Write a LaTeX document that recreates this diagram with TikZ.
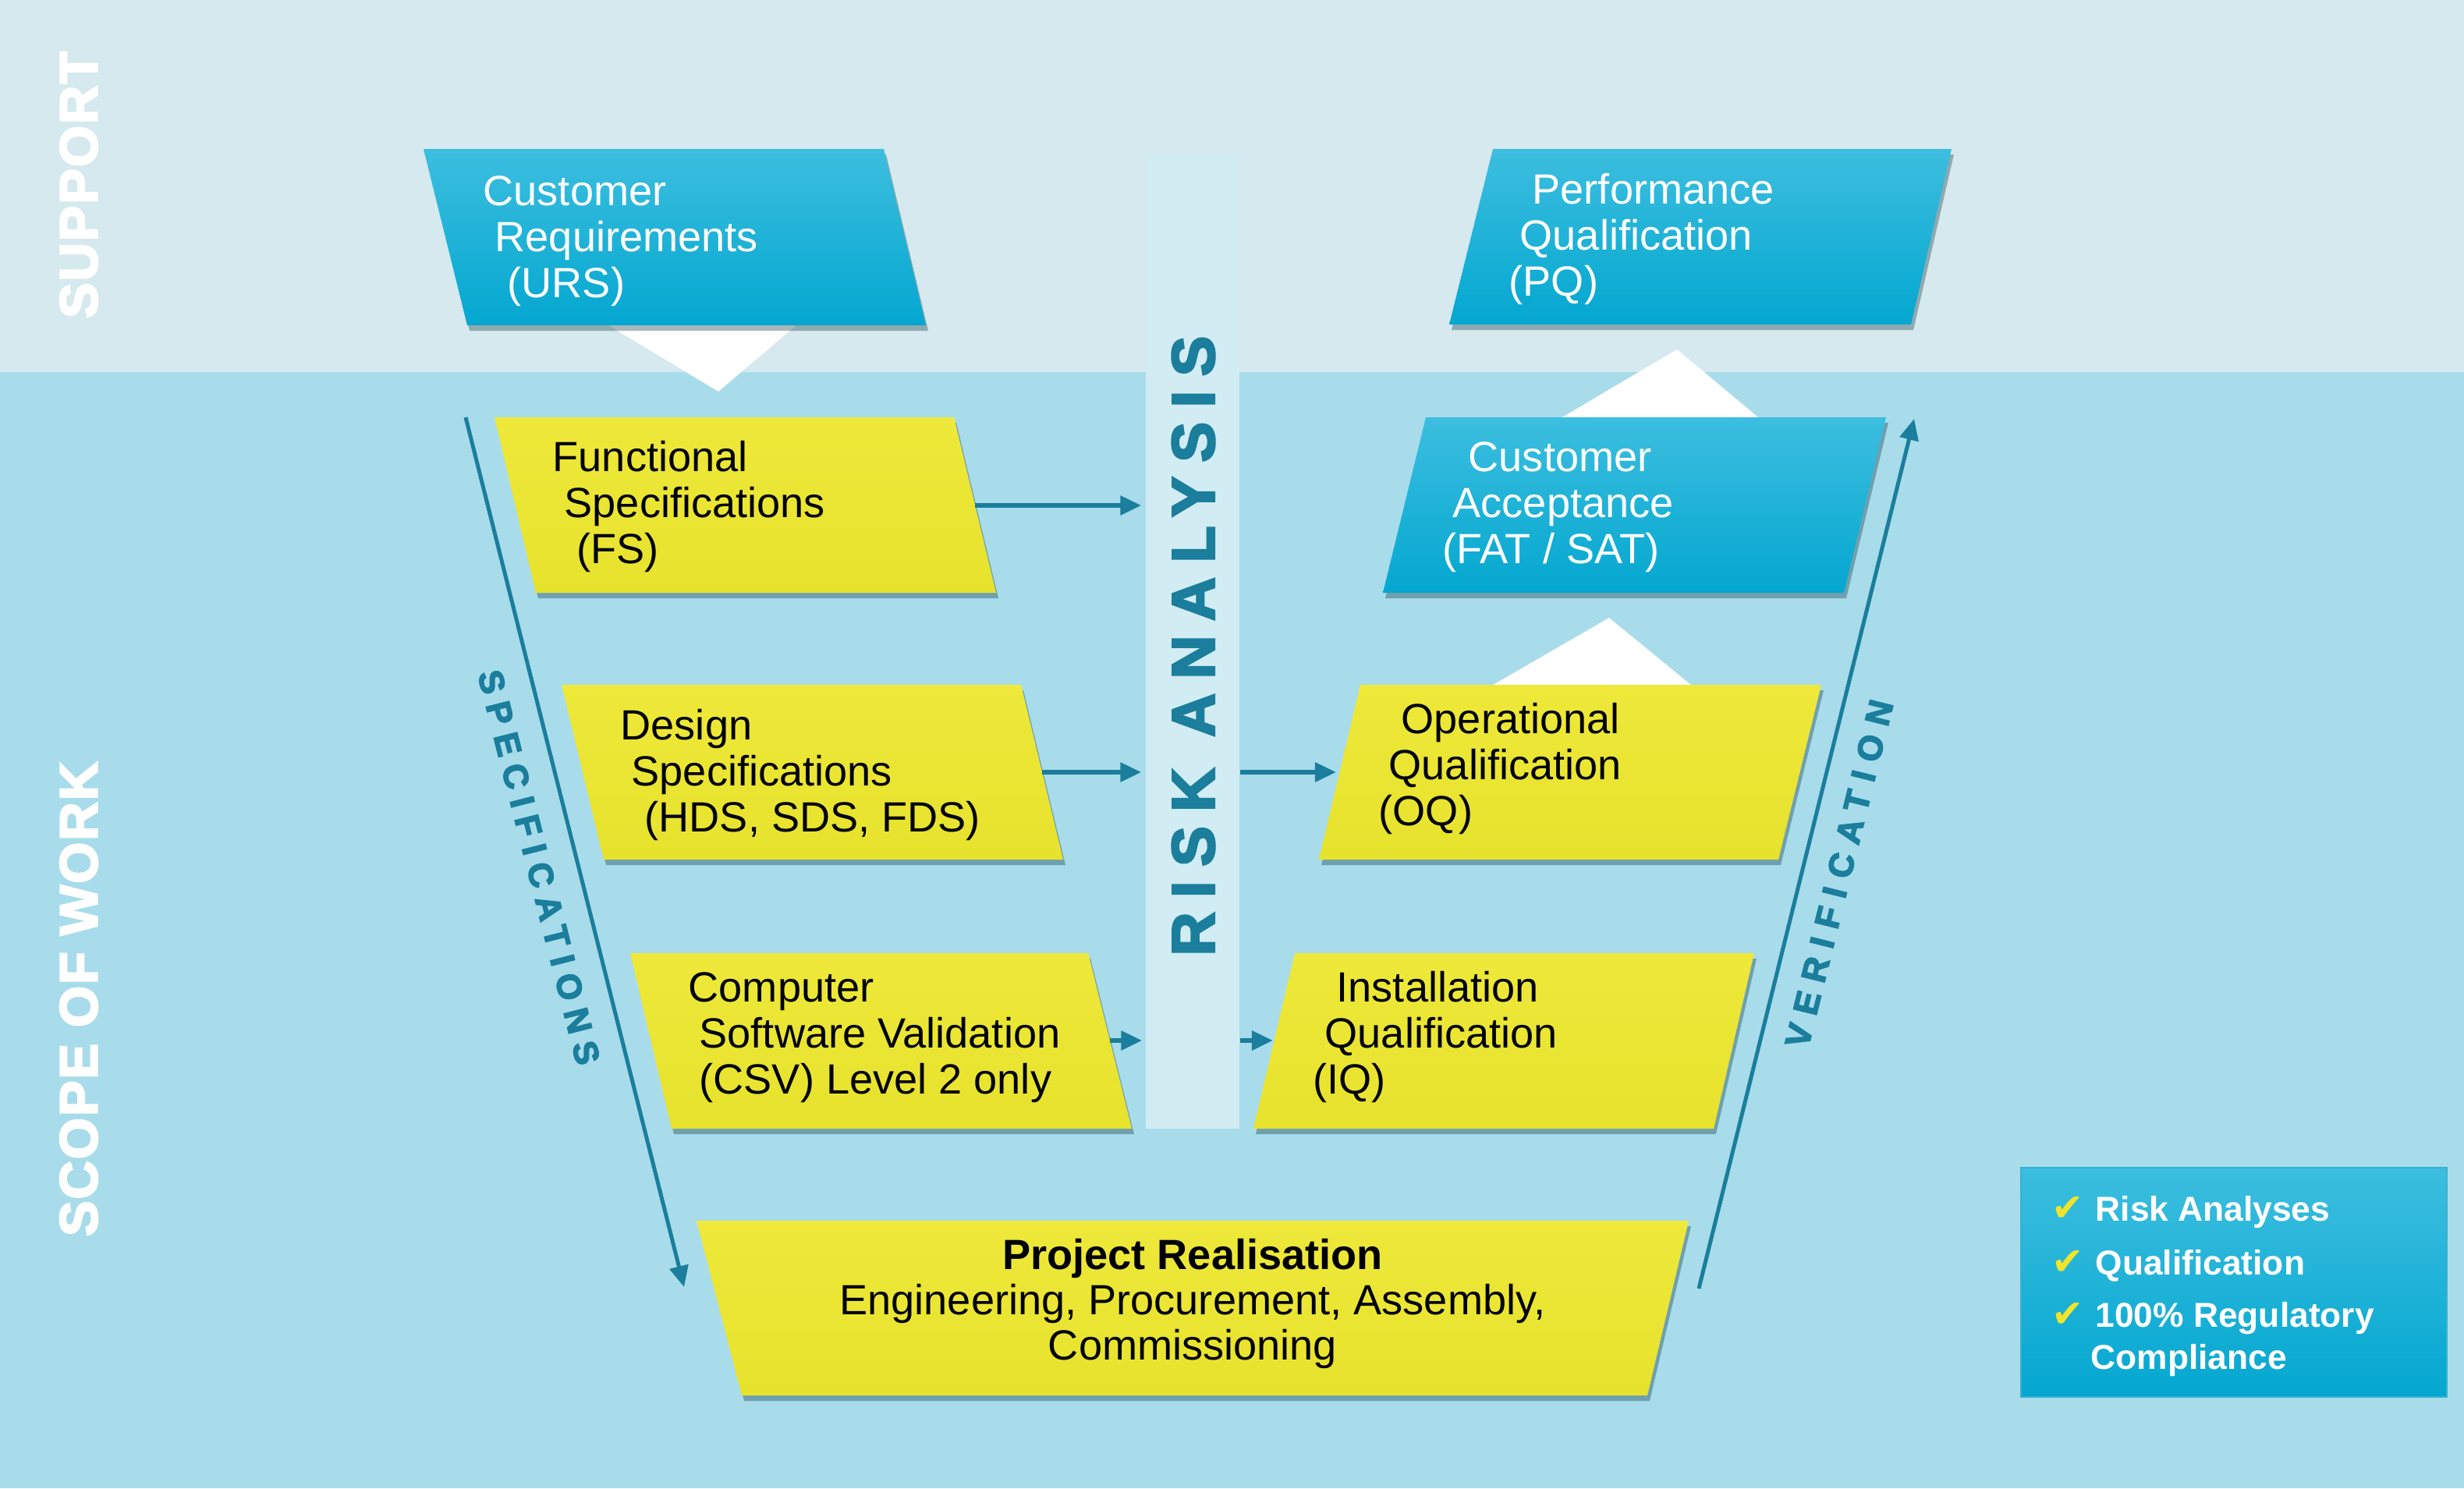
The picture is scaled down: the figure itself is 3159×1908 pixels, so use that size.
\documentclass[tikz,border=0pt]{standalone}
\usepackage{fontspec}
\setmainfont{Liberation Sans}
\newfontfamily\heavy{Liberation Sans}[BoldFeatures={FakeBold=3.5}]
\newfontfamily\checkfont{DejaVu Sans}
\usetikzlibrary{shadows,arrows.meta}
\newdimen\pxu \pxu=0.01cm
\newcommand\tlines[5]{\vtop{\baselineskip=59\pxu\relax\hbox{#1}\hbox{\kern#2\pxu\relax #3}\hbox{\kern#4\pxu\relax #5}}}
\definecolor{bandtop}{HTML}{D5E9EE}
\definecolor{bandlow}{HTML}{A8DCEB}
\definecolor{barcol}{HTML}{D2ECF4}
\definecolor{tealc}{HTML}{1A7E9C}
\definecolor{cyantop}{HTML}{3CBEDF}
\definecolor{cyanbot}{HTML}{04A7D0}
\definecolor{yeltop}{HTML}{EEE93A}
\definecolor{yelbot}{HTML}{E7E22C}
\definecolor{chkcol}{HTML}{F0E52A}
\tikzset{
  boxshadow/.style={drop shadow={shadow xshift=0.03cm, shadow yshift=-0.07cm, opacity=0.35, fill=black!60!tealc}},
  cyanbox/.style={top color=cyantop, bottom color=cyanbot, boxshadow},
  yelbox/.style={top color=yeltop, bottom color=yelbot, boxshadow},
  tri/.style={fill=white},
  wtxt/.style={text=white, inner sep=0, anchor=base west, font=\fontsize{15.4pt}{16.8pt}\selectfont},
  btxt/.style={text=black, inner sep=0, anchor=base west, font=\fontsize{15.4pt}{16.8pt}\selectfont},
  arr/.style={draw=tealc, line width=0.06cm, -{Triangle[length=0.27cm,width=0.24cm]}},
  sidelabel/.style={text=white, inner sep=0, rotate=90, font=\heavy\bfseries\fontsize{19.4pt}{19.4pt}\selectfont\addfontfeature{LetterSpace=3}},
  speclabel/.style={text=tealc, inner sep=0, font=\heavy\bfseries\fontsize{12.5pt}{12.5pt}\selectfont\addfontfeature{LetterSpace=27}},
  verlabel/.style={text=tealc, inner sep=0, font=\heavy\bfseries\fontsize{12.5pt}{12.5pt}\selectfont\addfontfeature{LetterSpace=31}},
  risklabel/.style={text=tealc, inner sep=0, rotate=90, font=\heavy\bfseries\fontsize{22pt}{22pt}\selectfont\addfontfeature{LetterSpace=24}},
  ltxt/.style={text=white, inner sep=0, anchor=base west, font=\bfseries\fontsize{12.6pt}{14pt}\selectfont},
  chk/.style={text=chkcol, inner sep=0, anchor=base west, font=\checkfont\bfseries\fontsize{14pt}{14pt}\selectfont},
}
\begin{document}
\begin{tikzpicture}[x=0.01cm, y=-0.01cm]
\useasboundingbox (0,0) rectangle (3159,1908);
% background bands
\fill[bandlow] (0,0) rectangle (3159,1908);
\fill[bandtop] (0,0) rectangle (3159,477);

% side labels
\node[sidelabel] (support) at (101,237) {SUPPORT};
\node[sidelabel] (scope) at (101,1281) {SCOPE OF WORK};

% risk analysis bar
\node[fill=barcol, inner sep=0, minimum width=1.2cm, minimum height=12.5cm] (risk) at (1529,822) {};
\node[risklabel] (riskT) at (1530,828) {RISK ANALYSIS};

% white triangles
\fill[tri] (760,405) -- (1035,405) -- (921,502) -- cycle;
\fill[tri] (1986,545) -- (2266,545) -- (2150,448) -- cycle;
\fill[tri] (1897,888) -- (2180,888) -- (2063,792) -- cycle;

% boxes
\path[cyanbox] (543,191) -- (1133,191) -- (1187,417) -- (599,417) -- cycle;
\path[cyanbox] (1914,191) -- (2502,191) -- (2450,416) -- (1858,416) -- cycle;
\path[yelbox] (634,535) -- (1223,535) -- (1277,760) -- (687,760) -- cycle;
\path[cyanbox] (1828,535) -- (2418,535) -- (2364,760) -- (1773,760) -- cycle;
\path[yelbox] (720,878) -- (1309,878) -- (1363,1102) -- (774,1102) -- cycle;
\path[yelbox] (1744,878) -- (2335,878) -- (2280,1102) -- (1691,1102) -- cycle;
\path[yelbox] (808,1222) -- (1395,1222) -- (1451,1447) -- (861,1447) -- cycle;
\path[yelbox] (1660,1222) -- (2249,1222) -- (2197,1447) -- (1607,1447) -- cycle;
\path[yelbox] (893,1565) -- (2165,1565) -- (2112,1789) -- (951,1789) -- cycle;

% box texts
\node[wtxt] (ursT) at (619,263) {\tlines{Customer}{15}{Requirements}{31}{(URS)}};
\node[wtxt] (pqT) at (1964,261) {\tlines{Performance}{-16}{Qualification}{-30}{(PQ)}};
\node[btxt] (fsT) at (708,604) {\tlines{Functional}{15}{Specifications}{31}{(FS)}};
\node[wtxt] (caT) at (1882,604) {\tlines{Customer}{-20}{Acceptance}{-33}{(FAT / SAT)}};
\node[btxt] (dsT) at (795,948) {\tlines{Design}{14}{Specifications}{31}{(HDS, SDS, FDS)}};
\node[btxt] (oqT) at (1796,940) {\tlines{Operational}{-16}{Qualification}{-29}{(OQ)}};
\node[btxt] (csvT) at (882,1284) {\tlines{Computer}{14}{Software Validation}{14}{(CSV) Level 2 only}};
\node[btxt] (iqT) at (1713,1284) {\tlines{Installation}{-15}{Qualification}{-30}{(IQ)}};
\node[btxt, anchor=base] (pr1) at (1529,1627) {\bfseries Project Realisation};
\node[btxt, anchor=base] (pr2) at (1529,1685) {Engineering, Procurement, Assembly,};
\node[btxt, anchor=base] (pr3) at (1529,1743) {Commissioning};

% horizontal arrows
\coordinate (fsR) at (1250,648);
\coordinate (dsR) at (1336,990);
\coordinate (oqL) at (1718,990);
\coordinate (csvR) at (1423,1334);
\coordinate (iqL) at (1634,1334);
\draw[arr, shorten >=0.05cm] (fsR) -- (fsR -| risk.west);
\draw[arr, shorten >=0.05cm] (dsR) -- (dsR -| risk.west);
\draw[arr, shorten >=0.05cm] (oqL -| risk.east) -- (oqL);
\draw[arr, shorten >=0.04cm] (csvR) -- (csvR -| risk.west);
\draw[arr, shorten >=0.02cm] (iqL -| risk.east) -- (iqL);

% specification / verification arrows
\coordinate (specA) at (597,535);
\coordinate (specB) at (877,1650);
\coordinate (verA) at (2178,1652);
\coordinate (verB) at (2454,537);
\draw[arr, line width=0.05cm] (specA) -- (specB);
\draw[arr, line width=0.05cm] (verA) -- (verB);
\node[speclabel, rotate=-75.75] (specT) at (691,1112) {SPECIFICATIONS};
\node[verlabel, rotate=76.07] (verT) at (2358,1120) {VERIFICATION};

% legend
\node[draw=cyantop!80!tealc, line width=0.02cm, top color=cyantop, bottom color=cyanbot, inner sep=0, minimum width=5.46cm, minimum height=2.94cm] (legend) at (2864,1644) {};
\node[chk] (c1) at (2630,1565) {✔};
\node[chk] (c2) at (2630,1634) {✔};
\node[chk] (c3) at (2630,1701) {✔};
\node[ltxt] (lg1) at (2686,1565) {Risk Analyses};
\node[ltxt] (lg2) at (2686,1634) {Qualification};
\node[ltxt] (lg3) at (2686,1701) {\vtop{\baselineskip=54\pxu\relax\hbox{100\% Regulatory}\hbox{\kern-6\pxu\relax Compliance}}};
\end{tikzpicture}
\end{document}
